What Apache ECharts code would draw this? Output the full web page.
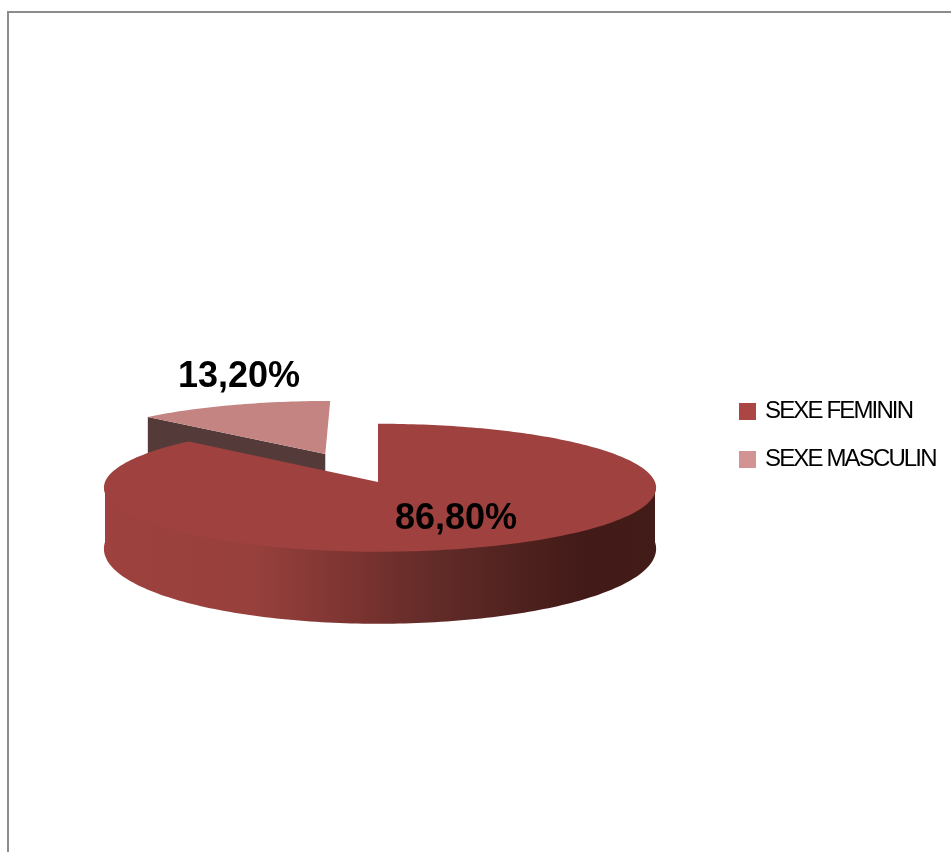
<!DOCTYPE html>
<html>
<head>
<meta charset="utf-8">
<style>html,body{margin:0;padding:0;background:#fff}#chart{width:951px;height:852px}</style>
<script src="https://cdn.jsdelivr.net/npm/echarts@6/dist/echarts.min.js"></script>
</head>
<body>
<div id="chart"></div>
<script>
// Répartition par sexe
const categories = ['SEXE FEMININ', 'SEXE MASCULIN'];
const shares = [86.8, 13.2];

// Tilted pie geometry: a disc seen in perspective, with the smaller slice pulled out.
const centre = { x: 378, y: 482 };
const radius = { left: 273, right: 277, depth: 64 };
const perspective = 0.09;
const wallHeight = 60;
const wallFlare = 0.2;
const explode = [0, 0.5];
const faceColours = ['#9e413f', '#c38482'];
const swatchColours = ['#ab4644', '#d39392'];
const labelAnchors = [[456, 519], [239, 377]];
const wallStops = [
  [0, '#9e413f'], [0.27, '#97403c'], [0.45, '#7c3431'], [0.6, '#622b28'],
  [0.78, '#4c201d'], [0.87, '#421a17'], [1, '#421c18']
];

const TOTAL = shares.reduce((a, b) => a + b, 0);

// The legend captions are set tight: canvas text has its own tracking property.
const tightCaptions = new Set(categories);
const ctxProto = CanvasRenderingContext2D.prototype;
const plainFillText = ctxProto.fillText;
ctxProto.fillText = function (text, x, y, maxWidth) {
  const tight = tightCaptions.has(text);
  if (tight) this.letterSpacing = '-1.85px';
  if (maxWidth === undefined) plainFillText.call(this, text, x, y);
  else plainFillText.call(this, text, x, y, maxWidth);
  if (tight) this.letterSpacing = '0px';
};

// Projects a point given as a clockwise angle from 12 o'clock and a radial fraction.
function project(theta, r, mid, offset) {
  const X = r * Math.sin(theta) + offset * Math.sin(mid);
  const Y = r * Math.cos(theta) + offset * Math.cos(mid);
  const f = 1 - perspective * Y;
  const rx = X < 0 ? radius.left : radius.right;
  return [centre.x + rx * X * f, centre.y - radius.depth * Y * f];
}

function arc(from, to, mid, offset, r) {
  const steps = Math.max(8, Math.round((to - from) / 0.02));
  const pts = [];
  for (let i = 0; i <= steps; i++) {
    pts.push(project(from + (to - from) * i / steps, r, mid, offset));
  }
  return pts;
}

function drop(pt, theta) {
  return [pt[0], pt[1] + wallHeight * (1 - wallFlare * Math.cos(theta))];
}

const fmt = v => v.toFixed(2).replace('.', ',') + '%';

function renderSlice(index) {
  return function (params, api) {
    const value = api.value(0);
    const before = shares.slice(0, index).reduce((a, b) => a + b, 0);
    const from = before / TOTAL * 2 * Math.PI;
    const to = from + value / TOTAL * 2 * Math.PI;
    const mid = (from + to) / 2;
    const offset = explode[index];
    const hub = project(0, 0, mid, offset);
    const children = [];

    if (index === 0) {
      // outer wall, front half only, tucked slightly under the top face
      const a = Math.max(from, Math.PI / 2);
      const b = Math.min(to, 3 * Math.PI / 2);
      const rimLine = arc(a, b, mid, offset, 1);
      const n = rimLine.length - 1;
      const lower = rimLine.map((p, i) => drop(p, a + (b - a) * i / n)).reverse();
      const upper = arc(a, b, mid, offset, 0.96);
      children.push({
        type: 'polygon',
        shape: { points: [rimLine[0]].concat(upper, [rimLine[n]], lower) },
        style: {
          fill: new echarts.graphic.LinearGradient(105, 0, 655, 0,
            wallStops.map(s => ({ offset: s[0], color: s[1] })), true)
        }
      });
    } else {
      // cut face left visible by the pulled-out slice
      const edge = project(from, 1, mid, offset);
      children.push({
        type: 'polygon',
        shape: { points: [edge, hub, drop(hub, 0), drop(edge, 0)] },
        style: { fill: '#553a3a' }
      });
    }

    children.push({
      type: 'polygon',
      shape: { points: [hub].concat(arc(from, to, mid, offset, 1)) },
      style: { fill: faceColours[index] }
    });
    children.push({
      type: 'text',
      z2: 10,
      style: {
        text: fmt(value),
        x: labelAnchors[index][0],
        y: labelAnchors[index][1],
        align: 'center',
        verticalAlign: 'middle',
        fill: '#000',
        font: 'bold 36px "Liberation Sans", Arial, sans-serif'
      }
    });
    return { type: 'group', children };
  };
}

const chart = echarts.init(document.getElementById('chart'), null, { renderer: 'canvas' });
chart.setOption({
  animation: false,
  backgroundColor: '#ffffff',
  graphic: [{
    type: 'polyline',
    shape: { points: [[8, 852], [8, 12], [951, 12]] },
    style: { stroke: '#8c8c8c', lineWidth: 2, fill: null }
  }],
  legend: {
    orient: 'vertical',
    left: 739,
    top: 395,
    padding: 0,
    itemWidth: 17,
    itemHeight: 17,
    itemGap: 15,
    icon: 'rect',
    data: categories.map((name, i) => ({ name, itemStyle: { color: swatchColours[i] } })),
    textStyle: {
      fontFamily: '"Liberation Sans", Arial, sans-serif',
      fontSize: 24,
      lineHeight: 30,
      color: '#000',
      padding: [3, 0, 0, 4]
    }
  },
  series: categories.map((name, i) => ({
    type: 'custom',
    name,
    coordinateSystem: 'none',
    z: i === 0 ? 3 : 2,
    itemStyle: { color: swatchColours[i] },
    renderItem: renderSlice(i),
    data: [[shares[i]]]
  }))
});
</script>
</body>
</html>
